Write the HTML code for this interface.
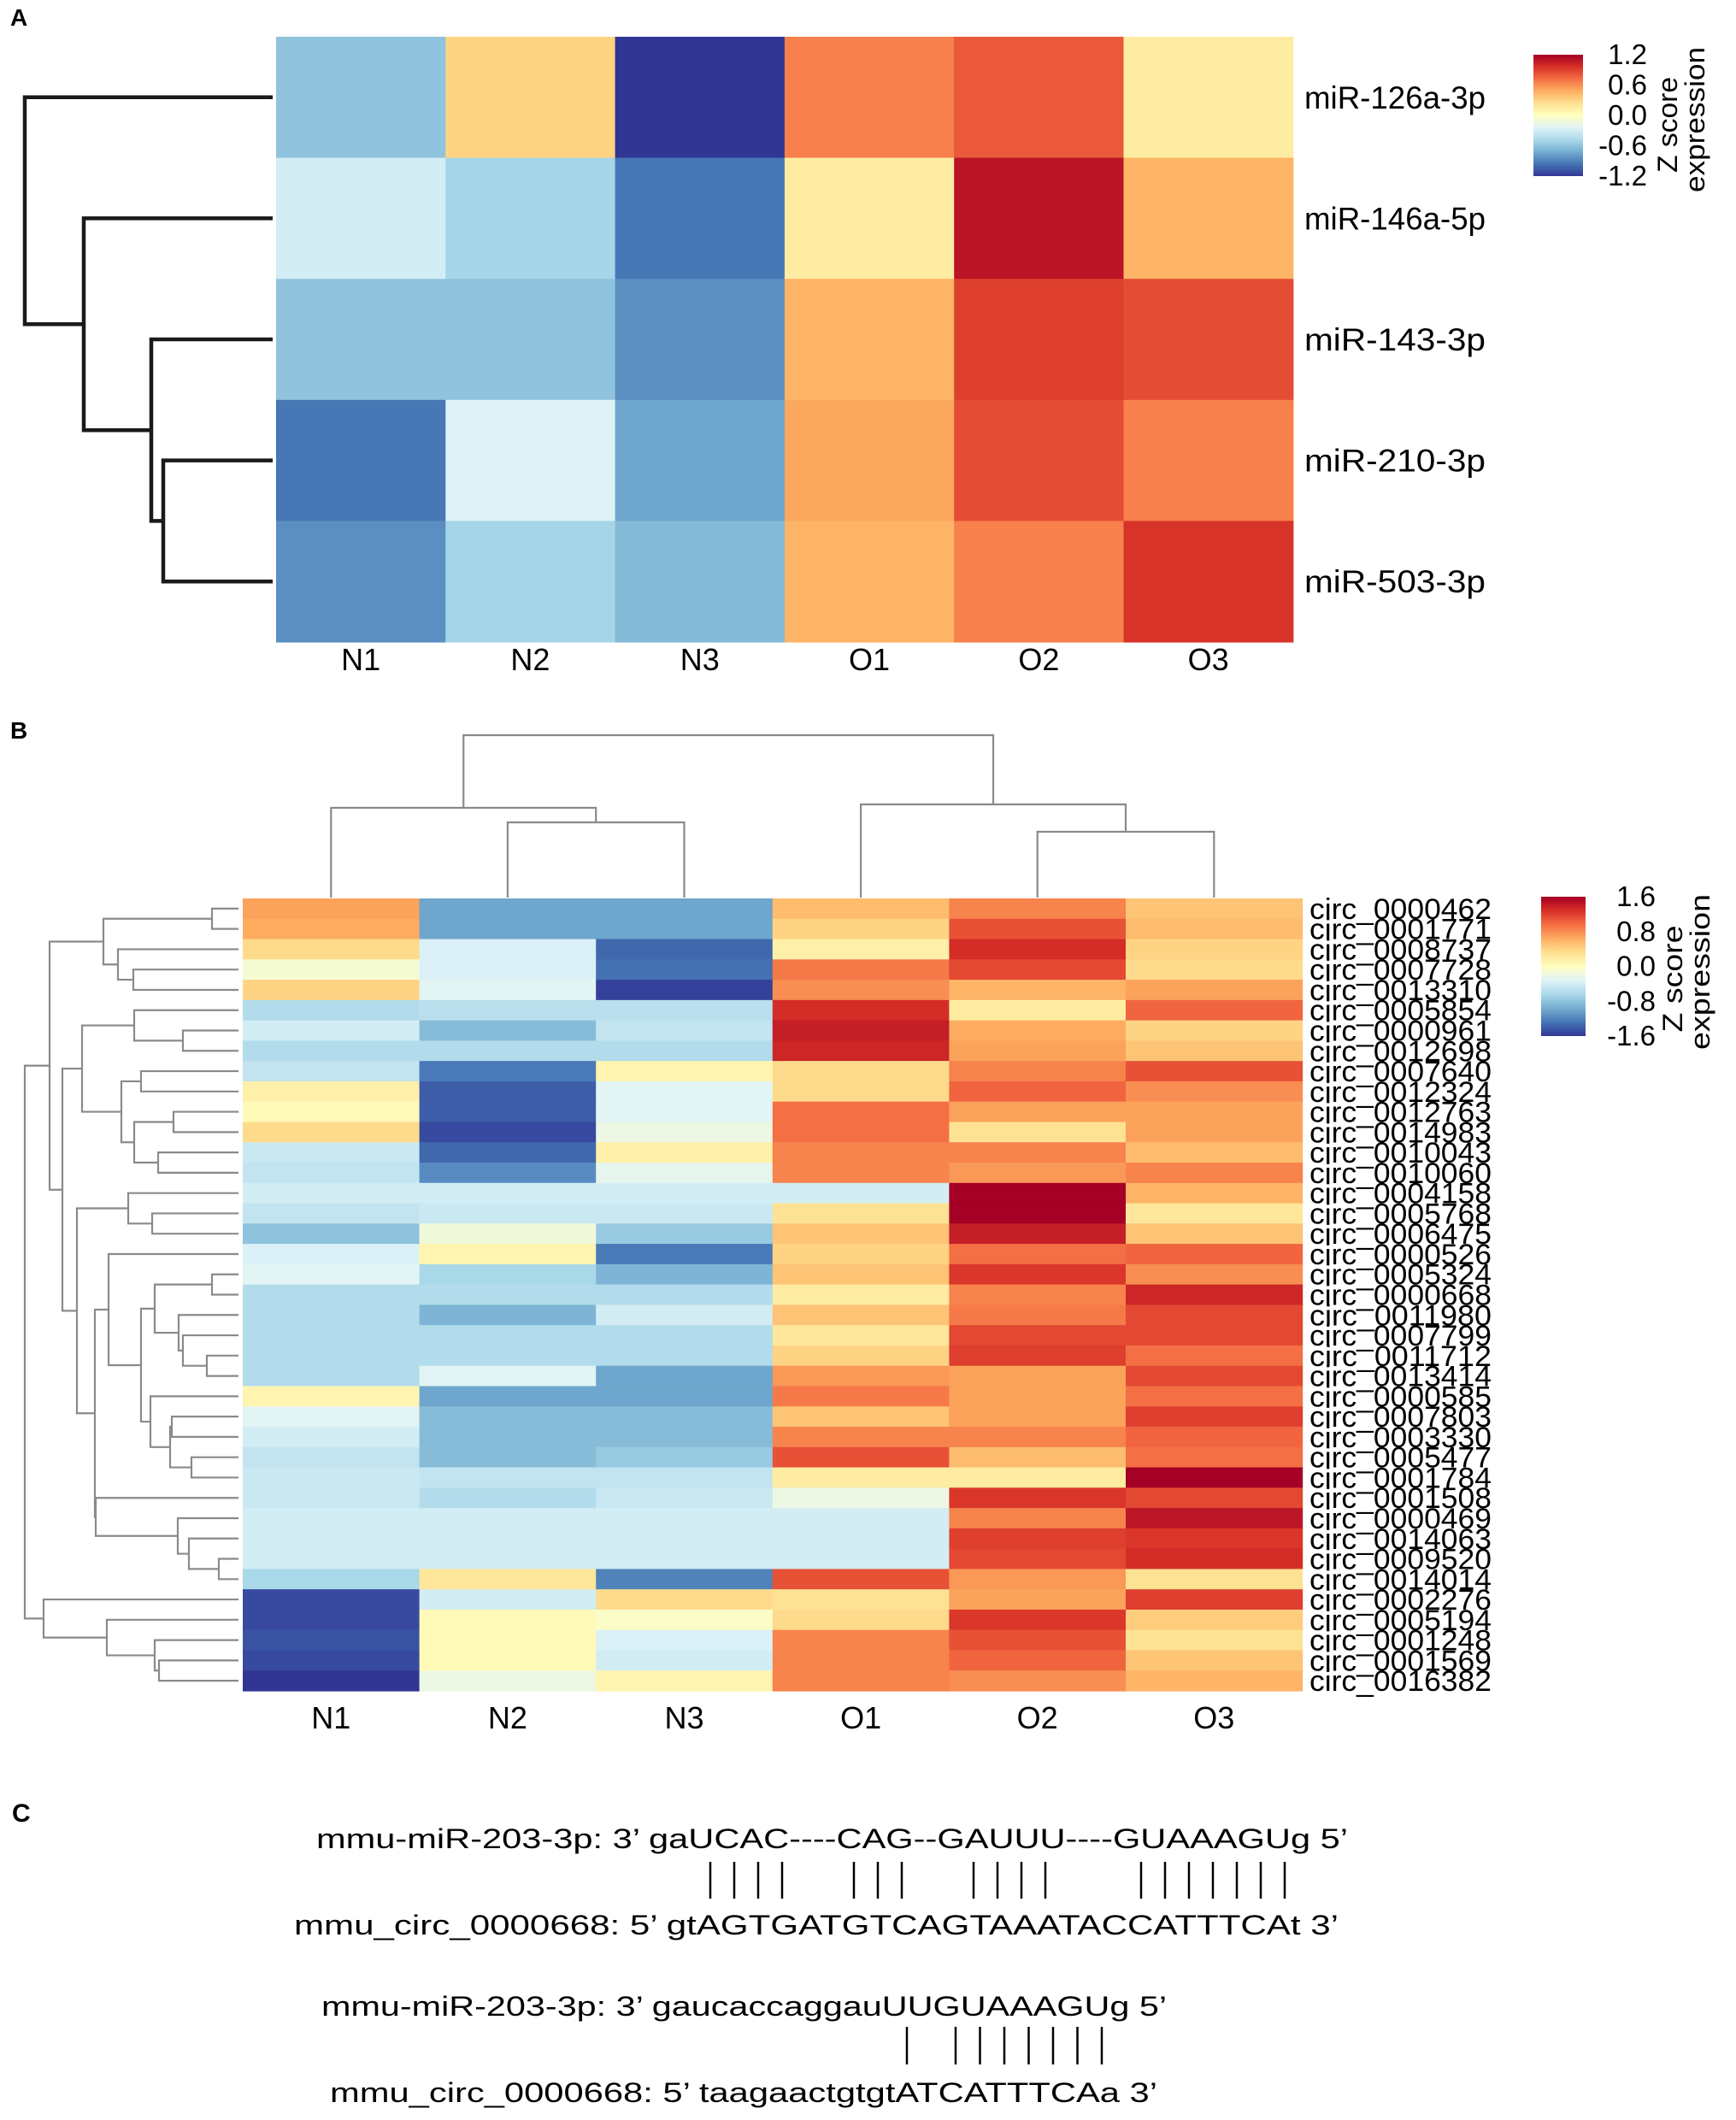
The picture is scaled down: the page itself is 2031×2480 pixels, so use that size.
<!DOCTYPE html>
<html><head><meta charset="utf-8"><style>
html,body{margin:0;padding:0;background:#fff;}
svg{display:block;font-family:"Liberation Sans",Arial,sans-serif;}
</style></head><body>
<svg id="fig" width="2031" height="2480" viewBox="0 0 2031 2480" xmlns="http://www.w3.org/2000/svg">
<g id="panelA"></g>
<g id="panelB"></g>
<g id="panelC">
  <text x="14" y="2131" font-size="30" font-weight="bold">C</text>
  <text x="370" y="2162" font-size="32" textLength="1207" lengthAdjust="spacingAndGlyphs">mmu-miR-203-3p: 3’ gaUCAC----CAG--GAUUU----GUAAAGUg 5’</text>
  <g id="bars1" stroke="#000" stroke-width="2.5"></g>
  <text x="344" y="2263" font-size="32" textLength="1222" lengthAdjust="spacingAndGlyphs">mmu_circ_0000668: 5’ gtAGTGATGTCAGTAAATACCATTTCAt 3’</text>
  <text x="376" y="2358" font-size="32" textLength="989" lengthAdjust="spacingAndGlyphs">mmu-miR-203-3p: 3’ gaucaccaggauUUGUAAAGUg 5’</text>
  <g id="bars2" stroke="#000" stroke-width="2.5"></g>
  <text x="386" y="2459" font-size="32" textLength="968" lengthAdjust="spacingAndGlyphs">mmu_circ_0000668: 5’ taagaactgtgtATCATTTCAa 3’</text>
</g>
</svg>
<script>
// ---------- data: panel A ----------
const aRows = ["miR-126a-3p","miR-146a-5p","miR-143-3p","miR-210-3p","miR-503-3p"];
const cols = ["N1","N2","N3","O1","O2","O3"];
const aVals = [
  [-0.6, 0.3, -1.2, 0.65, 0.8, 0.15],
  [-0.3, -0.5, -0.95, 0.15, 1.1, 0.45],
  [-0.6, -0.6, -0.85, 0.45, 0.9, 0.85],
  [-0.95, -0.25, -0.75, 0.5, 0.85, 0.65],
  [-0.85, -0.5, -0.65, 0.45, 0.65, 0.95]
];
const aTicks = ["1.2","0.6","0.0","-0.6","-1.2"];
const aTickVals = [1.2,0.6,0,-0.6,-1.2];
const aTree = [290, 0, [221, 1, [142, 2, [128, 3, 4]]]];

// ---------- data: panel B ----------
const bRows = ["circ_0000462","circ_0001771","circ_0008737","circ_0007728","circ_0013310","circ_0005854","circ_0000961","circ_0012698","circ_0007640","circ_0012324","circ_0012763","circ_0014983","circ_0010043","circ_0010060","circ_0004158","circ_0005768","circ_0006475","circ_0000526","circ_0005324","circ_0000668","circ_0011980","circ_0007799","circ_0011712","circ_0013414","circ_0000585","circ_0007803","circ_0003330","circ_0005477","circ_0001784","circ_0001508","circ_0000469","circ_0014063","circ_0009520","circ_0014014","circ_0002276","circ_0005194","circ_0001248","circ_0001569","circ_0016382"];
const bVals = [
  [0.7,-1.0,-1.0,0.55,0.85,0.5],
  [0.65,-1.0,-1.0,0.4,1.1,0.55],
  [0.35,-0.35,-1.35,0.15,1.3,0.4],
  [-0.1,-0.35,-1.3,0.9,1.15,0.35],
  [0.4,-0.3,-1.55,0.8,0.6,0.7],
  [-0.6,-0.55,-0.55,1.3,0.2,1.0],
  [-0.4,-0.85,-0.5,1.4,0.65,0.4],
  [-0.6,-0.6,-0.6,1.35,0.7,0.5],
  [-0.5,-1.25,0.1,0.35,0.85,1.1],
  [0.15,-1.4,-0.3,0.35,1.0,0.8],
  [0.05,-1.4,-0.3,0.95,0.7,0.7],
  [0.35,-1.5,-0.2,0.95,0.3,0.7],
  [-0.45,-1.35,0.15,0.85,0.85,0.55],
  [-0.5,-1.15,-0.25,0.85,0.75,0.85],
  [-0.4,-0.4,-0.4,-0.4,1.6,0.6],
  [-0.5,-0.45,-0.45,0.3,1.6,0.25],
  [-0.8,-0.15,-0.75,0.5,1.4,0.5],
  [-0.35,0.1,-1.25,0.4,0.95,1.0],
  [-0.3,-0.65,-0.9,0.5,1.25,0.8],
  [-0.6,-0.6,-0.6,0.2,0.85,1.35],
  [-0.6,-0.9,-0.4,0.5,0.9,1.15],
  [-0.6,-0.6,-0.6,0.25,1.15,1.15],
  [-0.6,-0.6,-0.6,0.4,1.2,0.95],
  [-0.6,-0.3,-1.0,0.75,0.7,1.15],
  [0.1,-1.0,-1.0,0.9,0.7,0.95],
  [-0.3,-0.85,-0.85,0.5,0.7,1.2],
  [-0.4,-0.85,-0.85,0.85,0.85,1.0],
  [-0.5,-0.85,-0.75,1.1,0.55,0.95],
  [-0.45,-0.5,-0.5,0.2,0.2,1.6],
  [-0.45,-0.6,-0.45,-0.2,1.25,1.15],
  [-0.4,-0.4,-0.4,-0.4,0.85,1.45],
  [-0.4,-0.4,-0.4,-0.4,1.2,1.25],
  [-0.4,-0.4,-0.4,-0.4,1.15,1.3],
  [-0.65,0.25,-1.2,1.1,0.75,0.3],
  [-1.5,-0.4,0.35,0.3,0.7,1.2],
  [-1.5,0.05,-0.05,0.35,1.25,0.45],
  [-1.45,0.05,-0.35,0.85,1.1,0.3],
  [-1.5,0.05,-0.4,0.85,1.0,0.5],
  [-1.6,-0.2,0.1,0.85,0.8,0.6]
];
const bTicks = ["1.6","0.8","0.0","-0.8","-1.6"];
const bTickVals = [1.6,0.8,0,-0.8,-1.6];
const bRowTree = [250,
  [221,
    [158, [31,0,1], [141, 2, [123,3,4]]],
    [206,
      [183, [122, 5, [65,6,7]], [137, [114,8,9], [122, [76,10,11], [94,12,13]]]],
      [189, [129, 14, [101,15,16]],
        [168, [152, 17, [114, [98, [31,18,19], [70, 20, [65, 21, [37,22,23]]]], [103, 24, [80, [78,25,26], [55,27,28]]]]],
              [167, 29, [71, 30, [58, 31, [23,32,33]]]]]]]],
  [228, 34, [154, 35, [98, 36, [93,37,38]]]]
];
const bColTree = [190, [105, 0, [88,1,2]], [109, 3, [77,4,5]]];

// pairing bars (character positions in the alignment)
const pair1 = [0,1,2,3, 6,7,8, 11,12,13,14, 18,19,20,21,22,23,24];
const pair2 = [0, 2,3,4,5,6,7,8];

// ---------- helpers ----------
const NS = "http://www.w3.org/2000/svg";
const stops = ["#a50026","#d73027","#f46d43","#fdae61","#fee090","#ffffbf","#e0f3f8","#abd9e9","#74add1","#4575b4","#313695"];
function hex(h){return [parseInt(h.slice(1,3),16),parseInt(h.slice(3,5),16),parseInt(h.slice(5,7),16)];}
function color(v,max){
  let t=(max-v)/(2*max); t=Math.max(0,Math.min(1,t));
  const p=t*10, i=Math.min(9,Math.floor(p)), f=p-i;
  const a=hex(stops[i]), b=hex(stops[i+1]);
  return "rgb("+a.map((x,k)=>Math.round(x+(b[k]-x)*f)).join(",")+")";
}
function el(tag, attrs, parent){
  const e=document.createElementNS(NS,tag);
  for(const k in attrs) e.setAttribute(k,attrs[k]);
  parent.appendChild(e); return e;
}
function heatmap(g, vals, x0, y0, cw, rh, max, name){
  vals.forEach((row,r)=>row.forEach((v,c)=>{
    const rc=el("rect",{x:x0+c*cw,y:y0+r*rh,width:cw+0.6,height:rh+0.6,fill:color(v,max)},g);
    
    
  }));
}
function rowDendro(g, tree, leafY, xLeaf, scale, stroke, sw, name){
  function draw(n){
    if(typeof n==="number") return {y:leafY(n), x:xLeaf};
    const L=draw(n[1]), R=draw(n[2]);
    const x=xLeaf - n[0]*scale;
    const p=el("path",{d:`M${L.x},${L.y}H${x}V${R.y}H${R.x}`,fill:"none",stroke:stroke,"stroke-width":sw},g);
    
    
    return {y:(L.y+R.y)/2, x:x};
  }
  draw(tree);
}
function colDendro(g, tree, leafX, yLeaf, scale, stroke, sw, name){
  function draw(n){
    if(typeof n==="number") return {x:leafX(n), y:yLeaf};
    const L=draw(n[1]), R=draw(n[2]);
    const y=yLeaf - n[0]*scale;
    const p=el("path",{d:`M${L.x},${L.y}V${y}H${R.x}V${R.y}`,fill:"none",stroke:stroke,"stroke-width":sw},g);
    
    
    return {x:(L.x+R.x)/2, y:y};
  }
  draw(tree);
}
function legend(g, x, y, w, h, max, ticks, tickVals, tx, name){
  const id=name+"-grad";
  const defs=el("defs",{},g);
  const lg=el("linearGradient",{id:id,x1:0,y1:0,x2:0,y2:1},defs);
  stops.forEach((s,i)=>el("stop",{offset:(i/10),"stop-color":s},lg));
  const r=el("rect",{x:x,y:y,width:w,height:h,fill:`url(#${id})`},g);
  
  
  ticks.forEach((t,i)=>{
    const yy=y+(max-tickVals[i])/(2*max)*h;
    const tt=el("text",{x:tx,y:yy+11,"font-size":33,"text-anchor":"end"},g);
    tt.textContent=t;
    
    
  });
}
function vtext(g, txt, cx, cy, len, name){
  const t=el("text",{x:0,y:0,"font-size":32,"text-anchor":"middle",transform:`translate(${cx},${cy}) rotate(-90)`,textLength:len,lengthAdjust:"spacingAndGlyphs"},g);
  t.textContent=txt;
  
  
}

// ---------- Panel A ----------
(function(){
  const g=document.getElementById("panelA");
  const x0=323, y0=43, cw=198.3, rh=141.6;
  const lab=el("text",{x:12,y:30,"font-size":28,"font-weight":"bold"},g); lab.textContent="A";
  
  
  heatmap(g,aVals,x0,y0,cw,rh,1.2,"mirna-heatmap");
  rowDendro(g,aTree,i=>y0+(i+0.5)*rh,319,1,"#1a1a1a",4.5,"mirna-row-dendrogram-branch");
  aRows.forEach((r,i)=>{
    const t=el("text",{x:1526,y:y0+(i+0.5)*rh+13,"font-size":37,textLength:212,lengthAdjust:"spacingAndGlyphs"},g);
    t.textContent=r;
    
    
  });
  cols.forEach((c,i)=>{
    const t=el("text",{x:x0+(i+0.5)*cw,y:784,"font-size":36,"text-anchor":"middle"},g);
    t.textContent=c;
    
    
  });
  legend(g,1794,64,58,142,1.2,aTicks,aTickVals,1927,"legend-a");
  vtext(g,"Z score",1962,146,112,"legend-a-title-z-score");
  vtext(g,"expression",1994,140,170,"legend-a-title-expression");
})();

// ---------- Panel B ----------
(function(){
  const g=document.getElementById("panelB");
  const x0=284, y0=1051, cw=206.6, rh=23.77;
  const lab=el("text",{x:12,y:864,"font-size":28,"font-weight":"bold"},g); lab.textContent="B";
  
  
  heatmap(g,bVals,x0,y0,cw,rh,1.6,"circrna-heatmap");
  rowDendro(g,bRowTree,i=>y0+(i+0.5)*rh,279,1,"#8a8a8a",2.2,"circrna-row-dendrogram-branch");
  colDendro(g,bColTree,i=>x0+(i+0.5)*cw,1050,1,"#8a8a8a",2.2,"circrna-column-dendrogram-branch");
  bRows.forEach((r,i)=>{
    const t=el("text",{x:1532,y:y0+(i+0.5)*rh+12,"font-size":34,textLength:213,lengthAdjust:"spacingAndGlyphs"},g);
    t.textContent=r;
    
    
  });
  cols.forEach((c,i)=>{
    const t=el("text",{x:x0+(i+0.5)*cw,y:2022,"font-size":36,"text-anchor":"middle"},g);
    t.textContent=c;
    
    
  });
  legend(g,1803,1049,52,163,1.6,bTicks,bTickVals,1937,"legend-b");
  vtext(g,"Z score",1968,1145,125,"legend-b-title-z-score");
  vtext(g,"expression",2000,1137,182,"legend-b-title-expression");
})();

// ---------- Panel C bars ----------
(function(){
  const g1=document.getElementById("bars1"), g2=document.getElementById("bars2");
  const step1=28.0, start1=831, step2=28.5, start2=1061;
  pair1.forEach(p=>{
    const l=el("line",{x1:start1+p*step1,x2:start1+p*step1,y1:2178,y2:2221},g1);
    
    
  });
  pair2.forEach(p=>{
    const l=el("line",{x1:start2+p*step2,x2:start2+p*step2,y1:2371,y2:2415},g2);
    
    
  });
})();
</script>
</body></html>
